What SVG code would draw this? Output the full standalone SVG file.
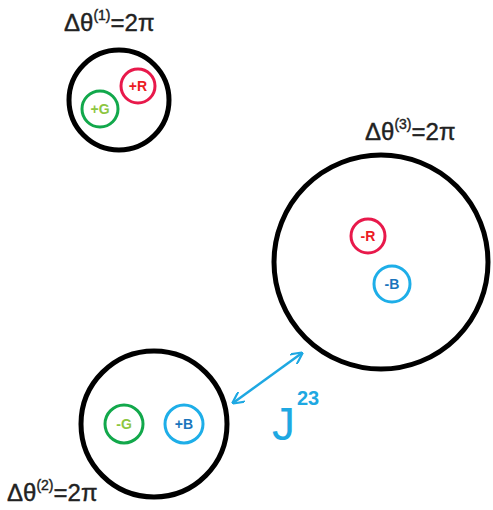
<svg xmlns="http://www.w3.org/2000/svg" width="493" height="510" viewBox="0 0 493 510">
<style>
.big{fill:none;stroke:#000;stroke-width:5}
.q{fill:none;stroke-width:3}
.ql{font-family:"Liberation Sans",Arial,sans-serif;font-weight:bold;font-size:14px;text-anchor:middle}
.lab{font-family:"Liberation Sans",Arial,sans-serif;font-size:24px;fill:#222;stroke:#222;stroke-width:0.4}
.sup{font-size:14px}
</style>
<defs>
<marker id="ah" viewBox="0 0 10 10" refX="9" refY="5" markerWidth="12" markerHeight="12" orient="auto-start-reverse" markerUnits="userSpaceOnUse">
<path d="M0,0 L10,5 L0,10" fill="none" stroke="#1ea8e2" stroke-width="1.8"/>
</marker>
</defs>
<g id="label1"><text class="lab" x="64" y="31">Δθ<tspan class="sup" dy="-11">(1)</tspan><tspan dy="11">=2π</tspan></text></g>
<g id="label3"><text class="lab" x="365" y="140">Δθ<tspan class="sup" dy="-11">(3)</tspan><tspan dy="11">=2π</tspan></text></g>
<g id="label2"><text class="lab" x="7" y="501">Δθ<tspan class="sup" dy="-11">(2)</tspan><tspan dy="11">=2π</tspan></text></g>
<g id="node1">
<circle class="big" cx="119" cy="100" r="50"/>
<circle class="q" cx="138" cy="86" r="17" stroke="#e8194b"/>
<text class="ql" x="138" y="91" fill="#ec1c24">+R</text>
<circle class="q" cx="100" cy="109" r="18" stroke="#12a84b"/>
<text class="ql" x="100" y="114" fill="#8dc63f">+G</text>
</g>
<g id="node3">
<circle class="big" cx="381" cy="262" r="107"/>
<circle class="q" cx="368" cy="236" r="17" stroke="#e8194b"/>
<text class="ql" x="368" y="241" fill="#ec1c24">-R</text>
<circle class="q" cx="392" cy="284" r="18" stroke="#1eaee8"/>
<text class="ql" x="392" y="289" fill="#1b75bc">-B</text>
</g>
<g id="node2">
<circle class="big" cx="154" cy="424" r="73"/>
<circle class="q" cx="124" cy="424" r="19" stroke="#12a84b"/>
<text class="ql" x="124" y="429" fill="#8dc63f">-G</text>
<circle class="q" cx="184" cy="424" r="19" stroke="#1eaee8"/>
<text class="ql" x="184" y="429" fill="#1b75bc">+B</text>
</g>
<g id="connectors">
<line x1="233" y1="403" x2="302" y2="353" stroke="#1ea8e2" stroke-width="2.5" marker-start="url(#ah)" marker-end="url(#ah)"/>
</g>
<g id="jlabel">
<text x="272" y="440" font-family="'Liberation Sans',Arial,sans-serif" font-size="46" fill="#1ea8e2">J</text>
<text x="297" y="405" font-family="'Liberation Sans',Arial,sans-serif" font-weight="bold" font-size="20" fill="#1ea8e2">23</text>
</g>
</svg>
